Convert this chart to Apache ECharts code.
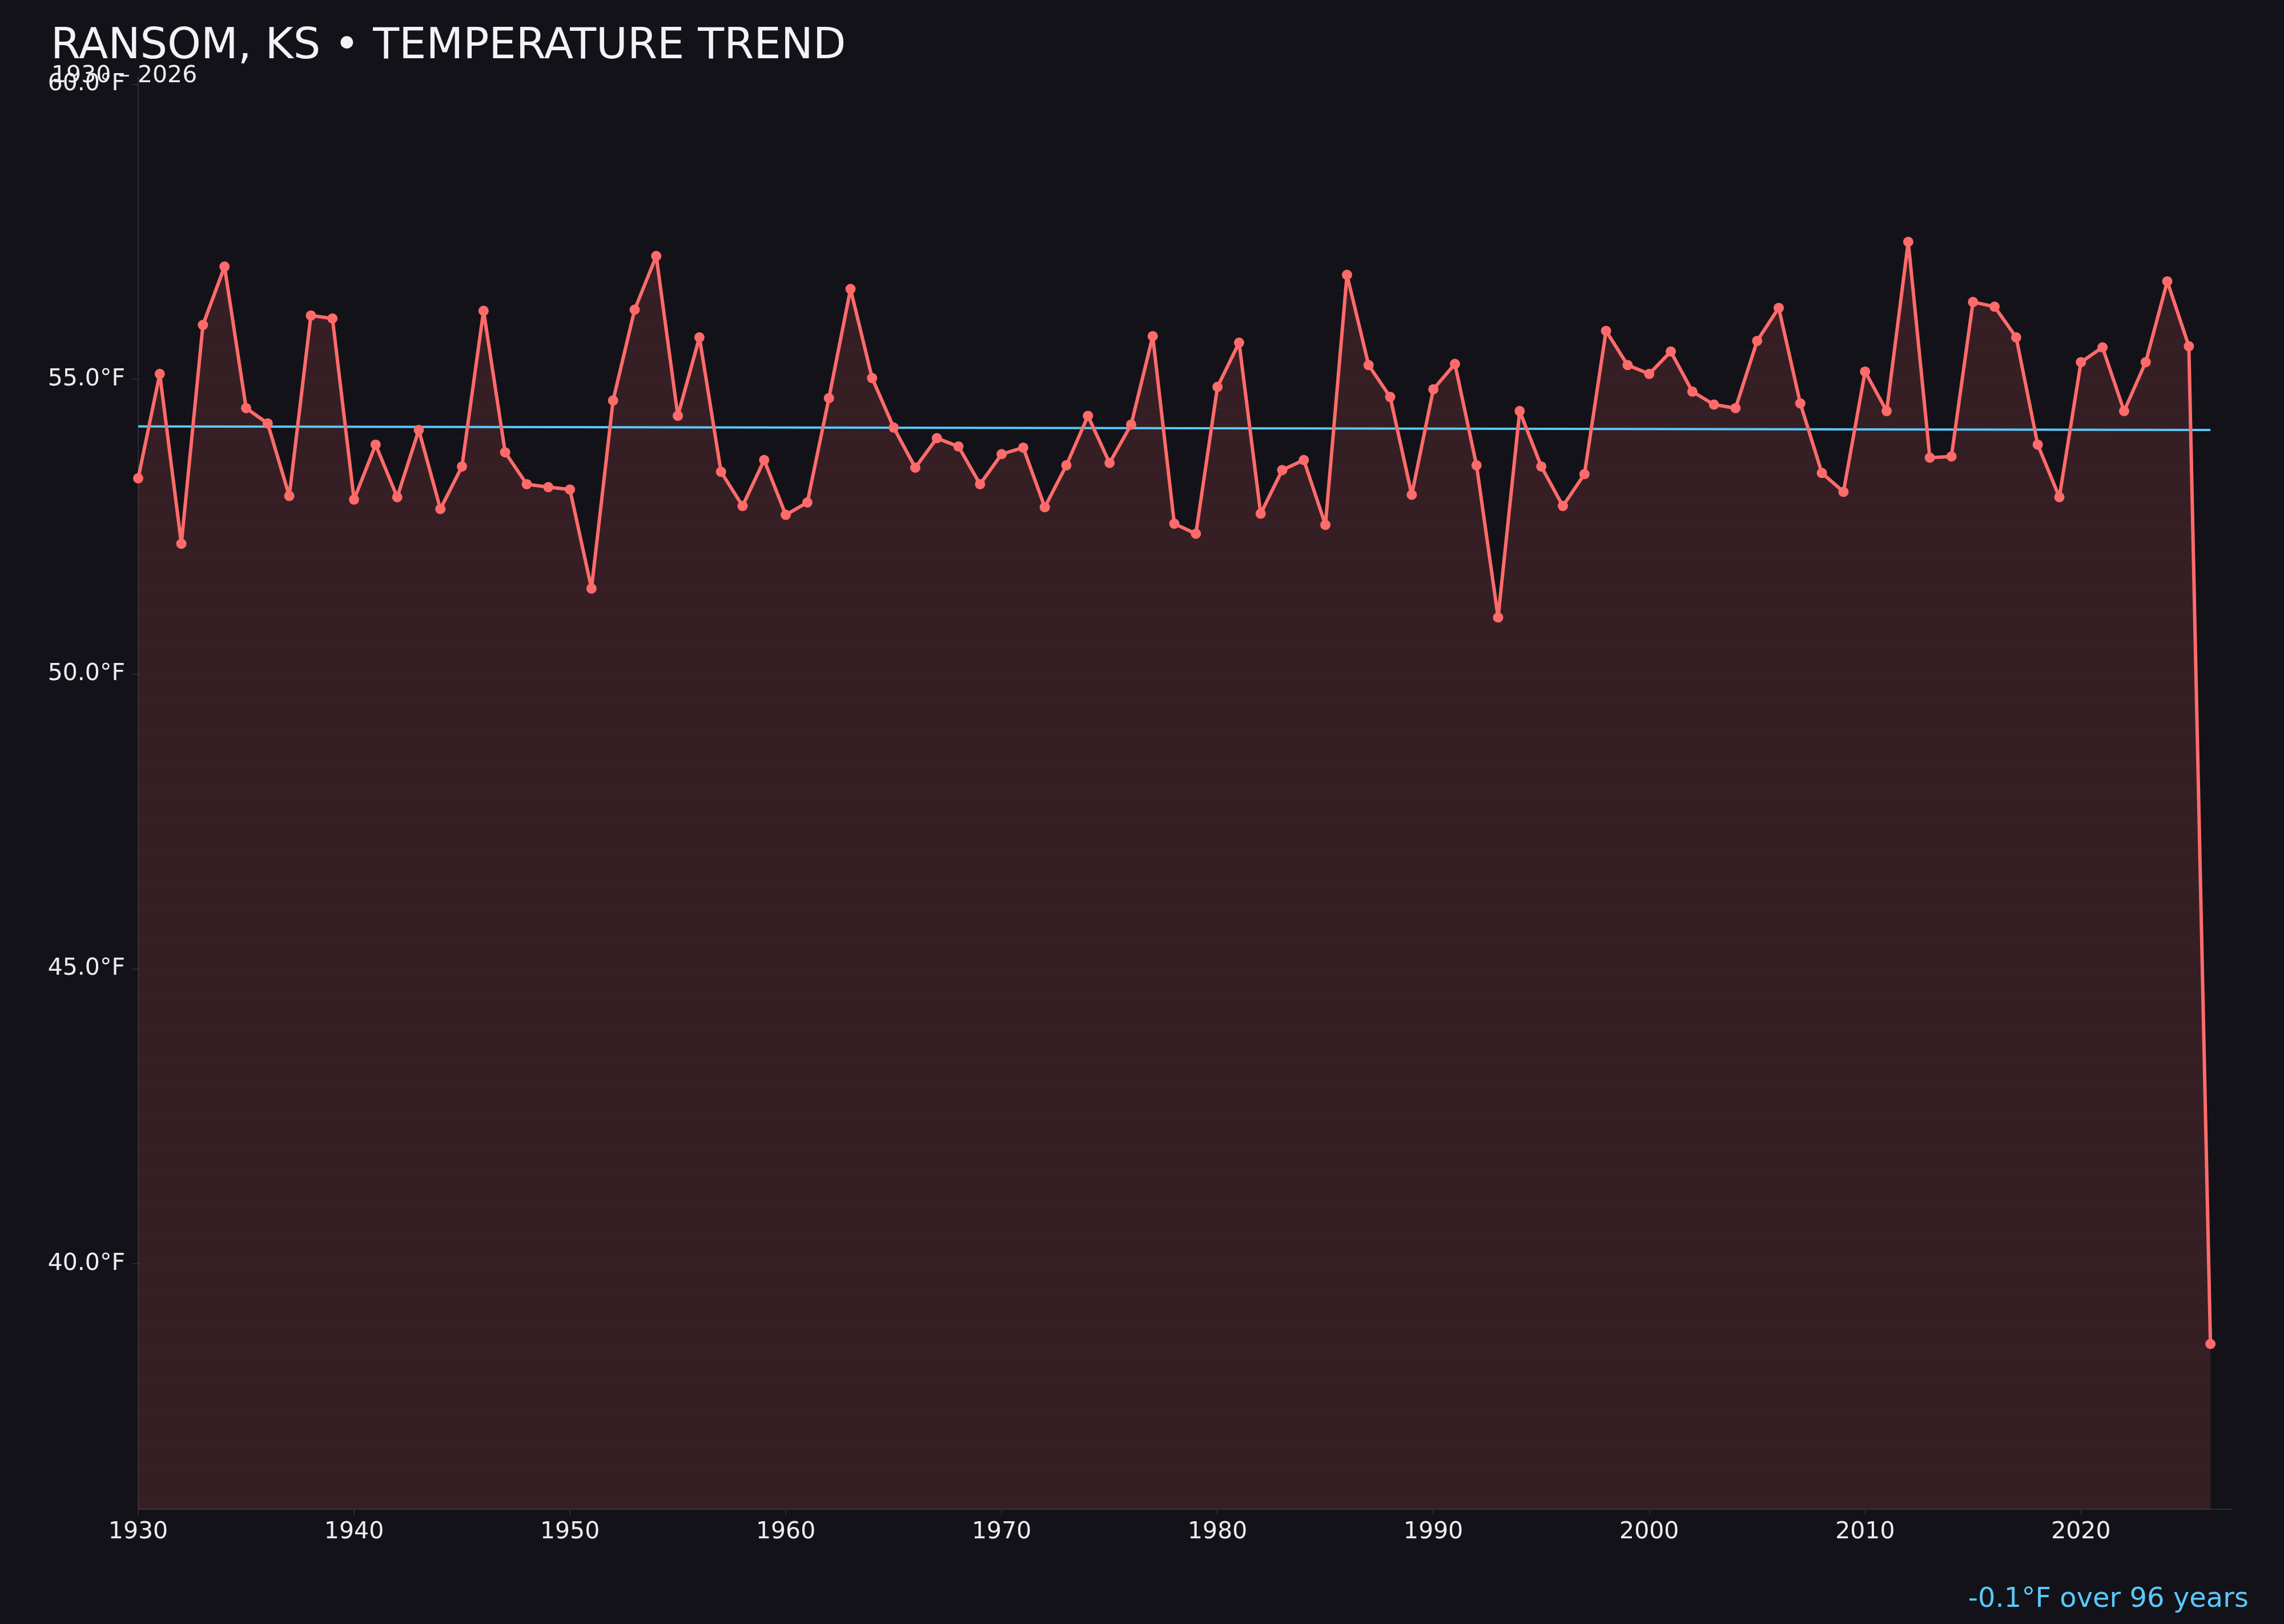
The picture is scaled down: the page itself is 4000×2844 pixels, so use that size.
<!DOCTYPE html>
<html>
<head>
<meta charset="utf-8">
<script src="https://cdn.jsdelivr.net/npm/echarts@6/dist/echarts.min.js"></script>
<style>
html,body{margin:0;padding:0;background:#131218;}
#chart{width:4000px;height:2844px;}
</style>
</head>
<body>
<div id="chart"></div>
<script>
const years = [1930,1931,1932,1933,1934,1935,1936,1937,1938,1939,
  1940,1941,1942,1943,1944,1945,1946,1947,1948,1949,
  1950,1951,1952,1953,1954,1955,1956,1957,1958,1959,
  1960,1961,1962,1963,1964,1965,1966,1967,1968,1969,
  1970,1971,1972,1973,1974,1975,1976,1977,1978,1979,
  1980,1981,1982,1983,1984,1985,1986,1987,1988,1989,
  1990,1991,1992,1993,1994,1995,1996,1997,1998,1999,
  2000,2001,2002,2003,2004,2005,2006,2007,2008,2009,
  2010,2011,2012,2013,2014,2015,2016,2017,2018,2019,
  2020,2021,2022,2023,2024,2025,2026];
const temps = [53.32,55.09,52.21,55.92,56.91,54.51,54.25,53.02,56.08,56.03,
  52.96,53.89,53.00,54.14,52.80,53.52,56.16,53.76,53.22,53.17,
  53.13,51.45,54.64,56.18,57.09,54.38,55.71,53.43,52.85,53.63,
  52.70,52.91,54.68,56.53,55.02,54.18,53.50,54.00,53.86,53.22,
  53.73,53.84,52.83,53.54,54.38,53.58,54.23,55.73,52.55,52.38,
  54.87,55.62,52.72,53.46,53.63,52.53,56.77,55.24,54.70,53.04,
  54.83,55.26,53.54,50.96,54.46,53.52,52.85,53.39,55.82,55.24,
  55.09,55.47,54.79,54.57,54.51,55.65,56.21,54.59,53.41,53.09,
  55.13,54.46,57.33,53.67,53.69,56.31,56.23,55.71,53.89,53.00,
  55.29,55.54,54.46,55.29,56.66,55.56,38.64];
const trendYears = [1930, 2026];
const trendValues = [54.20, 54.14];
const xTickYears = [1930,1940,1950,1960,1970,1980,1990,2000,2010,2020];
const yTickValues = [40,45,50,55,60];
const titleText = 'RANSOM, KS \u2022 TEMPERATURE TREND';
const subtitleText = '1930 \u2013 2026';
const trendText = '-0.1\u00B0F over 96 years';

const tMin = Math.min.apply(null, temps);
const tMax = Math.max.apply(null, temps);
const pad = (tMax - tMin) * 0.15;
const yLo = tMin - pad;
const yHi = tMax + pad;

const seriesData = years.map((y, i) => [y, temps[i]]);
const trendData = trendYears.map((y, i) => [y, trendValues[i]]);

const FONT = 'DejaVu Sans';
const TXT = '#ececf1';
const AXIS = '#2d2c34';

const chart = echarts.init(document.getElementById('chart'), null, {renderer: 'canvas', width: 4000, height: 2844});
chart.setOption({
  backgroundColor: '#131218',
  animation: false,
  title: [
    {text: titleText, left: 84, top: 40, textStyle: {fontFamily: FONT, fontSize: 75, fontWeight: 'normal', color: '#f2f2f7'}},
    {text: subtitleText, left: 85, top: 108, textStyle: {fontFamily: FONT, fontSize: 41, fontWeight: 'normal', color: TXT}},
    {text: trendText, right: 57, top: 2773, textStyle: {fontFamily: FONT, fontSize: 48, fontWeight: 'normal', color: '#5ac8fa'}}
  ],
  grid: {left: 242, right: 91, top: 134, bottom: 201, containLabel: false},
  xAxis: {
    type: 'value', min: 1930, max: 2027,
    axisLine: {show: true, lineStyle: {color: AXIS, width: 2}},
    axisTick: {show: true, length: 10, customValues: xTickYears, lineStyle: {color: AXIS, width: 2}},
    axisLabel: {customValues: xTickYears, margin: 20, fontFamily: FONT, fontSize: 41, color: TXT, formatter: v => String(v)},
    splitLine: {show: false}
  },
  yAxis: [
    {
      type: 'value', min: yLo, max: yHi, splitNumber: 5,
      axisLine: {show: true, lineStyle: {color: AXIS, width: 2}},
      axisTick: {show: true, length: 10, customValues: yTickValues, lineStyle: {color: AXIS, width: 2}},
      axisLabel: {customValues: yTickValues, margin: 23, fontFamily: FONT, fontSize: 41, color: TXT, formatter: v => v.toFixed(1) + '\u00B0F'},
      splitLine: {show: true, showMinLine: false, showMaxLine: false, lineStyle: {color: '#25242b', width: 2}}
    },
    {
      type: 'value', min: yLo, max: yHi, splitNumber: 48,
      axisLine: {show: false}, axisTick: {show: false}, axisLabel: {show: false},
      splitLine: {show: true, showMinLine: false, showMaxLine: false, lineStyle: {color: '#16151b', width: 2}}
    }
  ],
  series: [
    {
      type: 'line', data: seriesData, yAxisIndex: 0, z: 1, silent: true,
      showSymbol: false, lineStyle: {width: 0, opacity: 0},
      areaStyle: {color: 'rgba(255,107,107,0.15)', opacity: 1, origin: 'start'}
    },
    {
      type: 'line', data: trendData, yAxisIndex: 0, z: 2, silent: true,
      showSymbol: false, lineStyle: {color: '#5ac8fa', width: 4}
    },
    {
      type: 'line', data: seriesData, yAxisIndex: 0, z: 3,
      symbol: 'circle', symbolSize: 18, showAllSymbol: true,
      itemStyle: {color: '#ff6b6b'},
      lineStyle: {color: '#ff6b6b', width: 6}
    }
  ]
});
</script>
</body>
</html>
